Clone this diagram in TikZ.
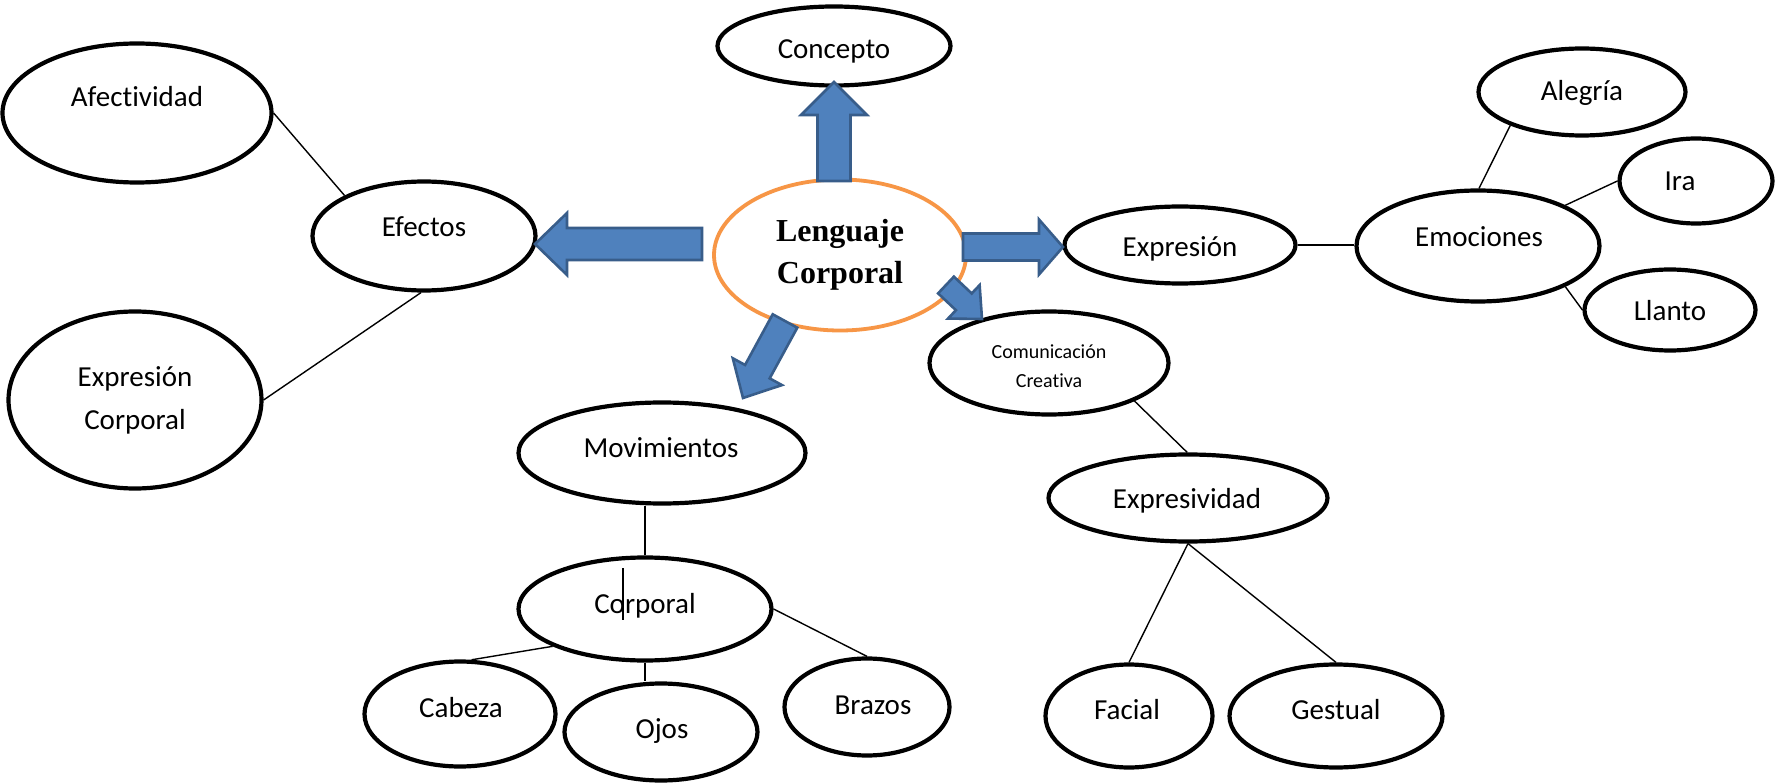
\documentclass[tikz,border=0pt]{standalone}
\usepackage{fontspec}
\setmainfont{Carlito}[Ligatures=NoCommon]
\newfontfamily\tnr{Liberation Serif}
\usetikzlibrary{shapes.geometric,calc}
\definecolor{ablue}{HTML}{4F81BD}
\definecolor{ablueb}{HTML}{385D8A}
\definecolor{aorange}{HTML}{F79646}
\tikzset{
 ell/.style={ellipse, draw=black, line width=4.2pt, inner sep=0pt},
 txt/.style={anchor=base, inner sep=0pt, font=\fontsize{29}{35}\selectfont},
 smalltxt/.style={anchor=base, inner sep=0pt, font=\fontsize{20}{29}\selectfont},
 link/.style={draw=black, line width=1.4pt},
 blockarrow/.style={fill=ablue, draw=ablueb, line width=2.6pt, line join=miter},
}
% #1 start, #2 tip, #3 shaft half width, #4 head half width, #5 head length
\newcommand\blockarr[5]{%
 \coordinate (ba-h) at ($(#2)!#5!(#1)$);
 \draw[blockarrow] ($(#1)!#3!90:(#2)$) -- ($(ba-h)!#3!-90:(#1)$) -- ($(ba-h)!#4!-90:(#1)$) -- (#2)
   -- ($(ba-h)!#4!90:(#1)$) -- ($(ba-h)!#3!90:(#1)$) -- ($(#1)!#3!-90:(#2)$) -- cycle;
}
\begin{document}
\begin{tikzpicture}[x=1pt,y=-1pt]
\fill[white] (0,0) rectangle (1775,783);
\useasboundingbox (0,0) rectangle (1775,783);

% ellipses
\node[ell, minimum width=233pt, minimum height=79pt] (concepto) at (834,46) {};
\node[ell, minimum width=269pt, minimum height=139pt] (afect) at (137,113) {};
\node[ell, minimum width=223pt, minimum height=109pt] (efectos) at (424,236) {};
\node[ell, minimum width=253pt, minimum height=177pt] (expcorp) at (135,400) {};
\node[ell, minimum width=231pt, minimum height=77pt] (expresion) at (1180,245) {};
\node[ell, minimum width=243pt, minimum height=111pt] (emociones) at (1478,246) {};
\node[ell, minimum width=207pt, minimum height=87pt] (alegria) at (1582,92) {};
\node[ell, minimum width=153pt, minimum height=85pt] (ira) at (1696,181) {};
\node[ell, minimum width=171pt, minimum height=81pt] (llanto) at (1670,310) {};
\node[ell, minimum width=239pt, minimum height=103pt] (comcre) at (1049,363) {};
\node[ell, minimum width=279pt, minimum height=87pt] (expresiv) at (1188,498) {};
\node[ell, minimum width=167pt, minimum height=103pt] (facial) at (1129,716) {};
\node[ell, minimum width=213pt, minimum height=103pt] (gestual) at (1336,716) {};
\node[ell, minimum width=287pt, minimum height=101pt] (movim) at (662,453) {};
\node[ell, minimum width=253pt, minimum height=103pt] (corp) at (645,609) {};
\node[ell, minimum width=191pt, minimum height=105pt] (cabeza) at (460,714) {};
\node[ell, minimum width=193pt, minimum height=97pt] (ojos) at (661,732) {};
\node[ell, minimum width=165pt, minimum height=97pt] (brazos) at (867,707) {};

% center
\node[ellipse, draw=aorange, line width=3.8pt, minimum width=252pt, minimum height=151pt,
      inner sep=0pt, align=center, font=\tnr\bfseries\fontsize{32}{42}\selectfont] (lc) at (840,255) {Lenguaje\\Corporal};

% texts
\node[txt] (t-concepto) at (834,59) {Concepto};
\node[txt] (t-afect) at (137,107) {Afectividad};
\node[txt] (t-efectos) at (424,237) {Efectos};
\node[txt] (t-expcorp1) at (135,387) {Expresión};
\node[txt] (t-expcorp2) at (135,429) {Corporal};
\node[txt] (t-expresion) at (1180,257) {Expresión};
\node[txt] (t-emociones) at (1479,247) {Emociones};
\node[txt] (t-alegria) at (1582,101) {Alegría};
\node[txt] (t-ira) at (1680,191) {Ira};
\node[txt] (t-llanto) at (1670,321) {Llanto};
\node[smalltxt] (t-comcre1) at (1049,359) {Comunicación};
\node[smalltxt] (t-comcre2) at (1049,388) {Creativa};
\node[txt] (t-expresiv) at (1187,508) {Expresividad};
\node[txt] (t-facial) at (1127,719) {Facial};
\node[txt] (t-gestual) at (1336,719) {Gestual};
\node[txt] (t-movim) at (661,457) {Movimientos};
\node[txt] (t-corp) at (645,613) {Corporal};
\node[txt] (t-cabeza) at (461,717) {Cabeza};
\node[txt] (t-ojos) at (662,738) {Ojos};
\node[txt] (t-brazos) at (873,714) {Brazos};
% text cursor bar inside "Corporal"
\draw[line width=1.2pt] (623,568) -- (623,620);

% connectors
\draw[link] (afect.east) -- (efectos.153);
\draw[link] (expcorp.east) -- (efectos.267);
\draw[link] (expresion.east) -- (expresion.east -| emociones.west);
\draw[link] (alegria.205) -- (emociones.89);
\draw[link] (ira.west) -- (emociones.25);
\draw[link] (llanto.west) -- (emociones.335);
\draw[link] (comcre.336) -- (expresiv.91);
\draw[link] (expresiv.south) -- (facial.north);
\draw[link] (expresiv.south) -- (gestual.north);
\draw[link] (corp.north) -- (corp.north |- movim.south);
\draw[link] (corp.south) -- (corp.south |- ojos.north);
\draw[link] (corp.202) -- (cabeza.78);
\draw[link] (corp.east) -- (brazos.north);

% block arrows
\coordinate (upS) at (834,181);
\coordinate (upT) at (834,82);
\coordinate (leS) at (702,244);
\coordinate (leT) at (535,244);
\coordinate (riS) at (963,247);
\coordinate (riT) at (1063,247);
\coordinate (drS) at (946,285);
\coordinate (drT) at (982,319);
\coordinate (dlS) at (785,321);
\coordinate (dlT) at (743,398);
\blockarr{upS}{upT}{16.5pt}{33pt}{33pt}
\blockarr{leS}{leT}{16pt}{31pt}{32pt}
\blockarr{riS}{riT}{13.5pt}{27.5pt}{24pt}
\blockarr{drS}{drT}{11.5pt}{23pt}{25pt}
\blockarr{dlS}{dlT}{14pt}{28pt}{30pt}
\end{tikzpicture}
\end{document}
